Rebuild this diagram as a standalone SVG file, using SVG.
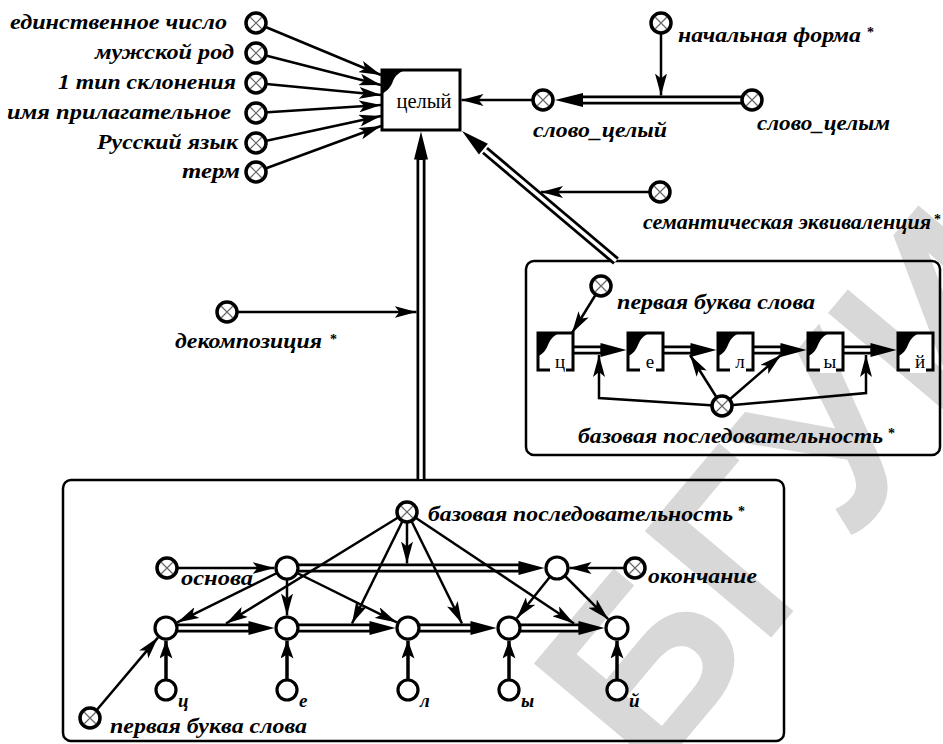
<svg xmlns="http://www.w3.org/2000/svg" width="943" height="744" viewBox="0 0 943 744">
<style>
.lbl{font-family:'Liberation Serif','Times New Roman',serif;font-weight:700;font-style:italic;font-size:22px;fill:#000}
.ast{font-family:'Liberation Serif',serif;font-weight:700;font-size:14px;fill:#000}
.reg{font-family:'Liberation Serif','Times New Roman',serif;font-size:21px;fill:#000}
.let{font-family:'Liberation Serif','Times New Roman',serif;font-size:19px;fill:#000}
.ln{stroke:#000;stroke-width:2.5;fill:none;marker-end:url(#ah)}
.thk{stroke:#000;stroke-width:3.5;fill:none;marker-end:url(#ahk)}
.dblo{stroke:#000;stroke-width:9}
.dbli{stroke:#fff;stroke-width:3.5}
.hd{fill:#000}
.nd{fill:#fff;stroke:#000;stroke-width:3.2}
.cont{fill:none;stroke:#000;stroke-width:2.5}
.wm{font-family:'Liberation Sans',Arial,sans-serif;font-weight:700;font-size:240px;fill:#d8d8d8}
</style>
<defs>
<marker id="ah" viewBox="0 0 22 12" refX="22" refY="6" markerWidth="22" markerHeight="12" orient="auto" markerUnits="userSpaceOnUse"><path d="M0,0 L22,6 L0,12 L5,6 Z" fill="#000"/></marker>
<marker id="ahk" viewBox="0 0 18 13" refX="18" refY="6.5" markerWidth="18" markerHeight="13" orient="auto" markerUnits="userSpaceOnUse"><path d="M0,0 L18,6.5 L0,13 L4,6.5 Z" fill="#000"/></marker>
<g id="xn"><circle r="10" fill="#fff" stroke="#000" stroke-width="3.5"/><path d="M-6,-6L6,6M-6,6L6,-6" stroke="#666" stroke-width="1.2"/></g>
<g id="lb"><rect width="35" height="37" fill="#fff" stroke="#000" stroke-width="3"/><path d="M0,0H21C15,3 12,7 10,12C8,17 5,21 0,23Z" fill="#000"/><rect x="12" y="34" width="16" height="6" fill="#fff"/></g>
</defs>
<rect width="943" height="744" fill="#fff"/>
<text class="wm" transform="translate(650,782) rotate(-50)">БГУИ</text>

<g id="box_right"><rect class="cont" x="526" y="261" width="414" height="194" rx="8"/></g>
<g id="box_bottom"><rect class="cont" x="63" y="480" width="721" height="261" rx="8"/></g>

<g id="connectors">
<line class="ln" x1="256" y1="23" x2="381" y2="75"/>
<line class="ln" x1="256" y1="53" x2="381" y2="85"/>
<line class="ln" x1="256" y1="83" x2="381" y2="95"/>
<line class="ln" x1="256" y1="113" x2="381" y2="105"/>
<line class="ln" x1="256" y1="143" x2="381" y2="116"/>
<line class="ln" x1="256" y1="172" x2="381" y2="126"/>
<line class="ln" x1="543" y1="100" x2="461.5" y2="100"/>
<line class="dblo" x1="752" y1="100" x2="581" y2="100"/><line class="dbli" x1="752" y1="100" x2="583" y2="100"/><polygon class="hd" points="555,100 583,93 583,107"/>
<line class="ln" x1="661" y1="23" x2="661" y2="95.5"/>
<line class="dblo" x1="616" y1="261" x2="485" y2="150.4"/><line class="dbli" x1="616" y1="261" x2="484" y2="149.6"/><polygon class="hd" points="462,131 487.9,143.75 478.9,154.45"/>
<line class="ln" x1="660" y1="192" x2="541" y2="192"/>
<line class="dblo" x1="421" y1="479" x2="421" y2="158"/><line class="dbli" x1="421" y1="479" x2="421" y2="160"/><polygon class="hd" points="421,131.5 428,159.5 414,159.5"/>
<line class="ln" x1="227" y1="312" x2="416.5" y2="312"/>

<line class="ln" x1="601" y1="286" x2="572" y2="333"/>
<line class="dblo" x1="573" y1="350" x2="602" y2="350"/><line class="dbli" x1="573" y1="350" x2="600.5" y2="350"/><polygon class="hd" points="626.5,350 600.5,343 600.5,357"/>
<line class="dblo" x1="663" y1="350" x2="692" y2="350"/><line class="dbli" x1="663" y1="350" x2="690.5" y2="350"/><polygon class="hd" points="716.5,350 690.5,343 690.5,357"/>
<line class="dblo" x1="753" y1="350" x2="782" y2="350"/><line class="dbli" x1="753" y1="350" x2="780.5" y2="350"/><polygon class="hd" points="806.5,350 780.5,343 780.5,357"/>
<line class="dblo" x1="843" y1="350" x2="872" y2="350"/><line class="dbli" x1="843" y1="350" x2="870.5" y2="350"/><polygon class="hd" points="896.5,350 870.5,343 870.5,357"/>
<polyline class="ln" points="722,406 599,398 599,355"/>
<line class="ln" x1="722" y1="406" x2="690" y2="355"/>
<line class="ln" x1="722" y1="406" x2="781" y2="355"/>
<polyline class="ln" points="722,406 866,393 866,355"/>

<line class="dblo" x1="287" y1="568" x2="520" y2="568"/><line class="dbli" x1="287" y1="568" x2="518.5" y2="568"/><polygon class="hd" points="544.5,568 518.5,561 518.5,575"/>
<line class="dblo" x1="166" y1="628" x2="250" y2="628"/><line class="dbli" x1="166" y1="628" x2="248.5" y2="628"/><polygon class="hd" points="274.5,628 248.5,621 248.5,635"/>
<line class="dblo" x1="287" y1="628" x2="371" y2="628"/><line class="dbli" x1="287" y1="628" x2="369.5" y2="628"/><polygon class="hd" points="395.5,628 369.5,621 369.5,635"/>
<line class="dblo" x1="408" y1="628" x2="472" y2="628"/><line class="dbli" x1="408" y1="628" x2="470.5" y2="628"/><polygon class="hd" points="496.5,628 470.5,621 470.5,635"/>
<line class="dblo" x1="509" y1="628" x2="580" y2="628"/><line class="dbli" x1="509" y1="628" x2="578.5" y2="628"/><polygon class="hd" points="604.5,628 578.5,621 578.5,635"/>
<line class="ln" x1="167" y1="568" x2="274.5" y2="568"/>
<line class="ln" x1="635" y1="568" x2="569.5" y2="568"/>
<line class="ln" x1="90" y1="718" x2="157.9" y2="637.6"/>
<line class="ln" x1="287" y1="568" x2="177.2" y2="622.4"/>
<line class="ln" x1="287" y1="568" x2="287" y2="615.5"/>
<line class="ln" x1="287" y1="568" x2="396.8" y2="622.4"/>
<line class="ln" x1="557" y1="568" x2="516.8" y2="618.2"/>
<line class="ln" x1="557" y1="568" x2="608.2" y2="619.2"/>
<line class="ln" x1="407" y1="512" x2="407" y2="563.5"/>
<line class="ln" x1="407" y1="512" x2="226" y2="623.5"/>
<line class="ln" x1="407" y1="512" x2="352" y2="623.5"/>
<line class="ln" x1="407" y1="512" x2="462" y2="623.5"/>
<line class="ln" x1="407" y1="512" x2="574" y2="623.5"/>
<line class="thk" x1="166" y1="680" x2="166" y2="640.5"/>
<line class="thk" x1="287" y1="680" x2="287" y2="640.5"/>
<line class="thk" x1="408" y1="680" x2="408" y2="640.5"/>
<line class="thk" x1="509" y1="680" x2="509" y2="640.5"/>
<line class="thk" x1="617" y1="680" x2="617" y2="640.5"/>
</g>

<g id="n_ed_chislo"><use href="#xn" x="256" y="23"/><text class="lbl" x="10" y="29" textLength="217" lengthAdjust="spacingAndGlyphs">единственное число</text></g>
<g id="n_muzh_rod"><use href="#xn" x="256" y="53"/><text class="lbl" x="95" y="59" textLength="139" lengthAdjust="spacingAndGlyphs">мужской род</text></g>
<g id="n_tip1"><use href="#xn" x="256" y="83"/><text class="lbl" x="58" y="89" textLength="178" lengthAdjust="spacingAndGlyphs">1 тип склонения</text></g>
<g id="n_imya_pril"><use href="#xn" x="256" y="113"/><text class="lbl" x="7" y="119" textLength="224" lengthAdjust="spacingAndGlyphs">имя прилагательное</text></g>
<g id="n_rus"><use href="#xn" x="256" y="143"/><text class="lbl" x="97" y="149" textLength="141" lengthAdjust="spacingAndGlyphs">Русский язык</text></g>
<g id="n_term"><use href="#xn" x="256" y="172"/><text class="lbl" x="182" y="178" textLength="58" lengthAdjust="spacingAndGlyphs">терм</text></g>

<g id="n_celyi"><rect x="382" y="70" width="78" height="60" fill="#fff" stroke="#000" stroke-width="3"/><path d="M382,70H406C399,72 395,76 393,81C391,87 387,91 382,94Z" fill="#000"/><text class="reg" x="424" y="108" text-anchor="middle" textLength="55" lengthAdjust="spacingAndGlyphs">целый</text></g>
<g id="n_slovo_celyi"><use href="#xn" x="543" y="100"/><text class="lbl" x="533" y="137" textLength="134" lengthAdjust="spacingAndGlyphs">слово_целый</text></g>
<g id="n_slovo_celym"><use href="#xn" x="752" y="100"/><text class="lbl" x="757" y="130" textLength="133" lengthAdjust="spacingAndGlyphs">слово_целым</text></g>
<g id="n_nach_forma"><use href="#xn" x="661" y="23"/><text class="lbl" x="678" y="42" textLength="183" lengthAdjust="spacingAndGlyphs">начальная форма</text><text class="ast" x="867" y="37">*</text></g>
<g id="n_sem_ekv"><use href="#xn" x="660" y="192"/><text class="lbl" x="643" y="229" textLength="288" lengthAdjust="spacingAndGlyphs">семантическая эквиваленция</text><text class="ast" x="934" y="224">*</text></g>
<g id="n_dekomp"><use href="#xn" x="227" y="312"/><text class="lbl" x="175" y="348" textLength="147" lengthAdjust="spacingAndGlyphs">декомпозиция</text><text class="ast" x="330" y="344">*</text></g>

<g id="r_pervaya"><use href="#xn" x="601" y="286"/><text class="lbl" x="617" y="309" textLength="198" lengthAdjust="spacingAndGlyphs">первая буква слова</text></g>
<g id="r_c"><use href="#lb" x="538" y="333"/><text class="let" x="560" y="368" text-anchor="middle">ц</text></g>
<g id="r_e"><use href="#lb" x="628" y="333"/><text class="let" x="650" y="368" text-anchor="middle">е</text></g>
<g id="r_l"><use href="#lb" x="718" y="333"/><text class="let" x="740" y="368" text-anchor="middle">л</text></g>
<g id="r_y"><use href="#lb" x="808" y="333"/><text class="let" x="830" y="368" text-anchor="middle">ы</text></g>
<g id="r_j"><use href="#lb" x="898" y="333"/><text class="let" x="920" y="368" text-anchor="middle">й</text></g>
<g id="r_base"><use href="#xn" x="722" y="406"/><text class="lbl" x="578" y="443" textLength="305" lengthAdjust="spacingAndGlyphs">базовая последовательность</text><text class="ast" x="888" y="438">*</text></g>

<g id="b_base"><use href="#xn" x="407" y="512"/><text class="lbl" x="428" y="521" textLength="305" lengthAdjust="spacingAndGlyphs">базовая последовательность</text><text class="ast" x="738" y="516">*</text></g>
<g id="b_osnova"><use href="#xn" x="167" y="568"/><text class="lbl" x="181" y="585" textLength="72" lengthAdjust="spacingAndGlyphs">основа</text></g>
<g id="b_okonch"><use href="#xn" x="635" y="568"/><text class="lbl" x="648" y="583" textLength="109" lengthAdjust="spacingAndGlyphs">окончание</text></g>
<g id="b_pervaya"><use href="#xn" x="90" y="718"/><text class="lbl" x="110" y="733" textLength="197" lengthAdjust="spacingAndGlyphs">первая буква слова</text></g>
<g id="b_A"><circle class="nd" cx="287" cy="568" r="11"/></g>
<g id="b_B"><circle class="nd" cx="557" cy="568" r="11"/></g>
<g id="b_rc"><circle class="nd" cx="166" cy="628" r="11"/></g>
<g id="b_re"><circle class="nd" cx="287" cy="628" r="11"/></g>
<g id="b_rl"><circle class="nd" cx="408" cy="628" r="11"/></g>
<g id="b_ry"><circle class="nd" cx="509" cy="628" r="11"/></g>
<g id="b_rj"><circle class="nd" cx="617" cy="628" r="11"/></g>
<g id="b_c"><circle class="nd" cx="166" cy="690" r="10"/><text class="lbl" x="178" y="707" style="font-size:19px">ц</text></g>
<g id="b_e"><circle class="nd" cx="287" cy="690" r="10"/><text class="lbl" x="299" y="707" style="font-size:19px">е</text></g>
<g id="b_l"><circle class="nd" cx="408" cy="690" r="10"/><text class="lbl" x="420" y="707" style="font-size:19px">л</text></g>
<g id="b_y"><circle class="nd" cx="509" cy="690" r="10"/><text class="lbl" x="521" y="707" style="font-size:19px">ы</text></g>
<g id="b_j"><circle class="nd" cx="617" cy="690" r="10"/><text class="lbl" x="629" y="707" style="font-size:19px">й</text></g>
</svg>
